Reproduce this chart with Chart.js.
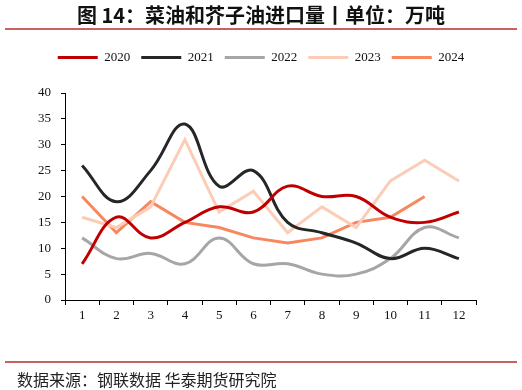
<!DOCTYPE html>
<html>
<head>
<meta charset="utf-8">
<script src="https://cdn.jsdelivr.net/npm/chart.js@4"></script>
<style>
  body { margin: 0; background: #fff; }
  #wrap { position: relative; width: 522px; height: 390px; overflow: hidden; }
  #c { position: absolute; left: 0; top: 0; }
  .title { position: absolute; left: 0; top: 0px; width: 522px; text-align: center;
    font: bold 20px "Noto Sans CJK SC", sans-serif; color: #111; }
  .rule { position: absolute; left: 5px; width: 512px; height: 2px; background: #C8625F; }
  .src { position: absolute; left: 17px; top: 367px; font: 16px "Noto Sans CJK SC", sans-serif; color: #222; }
</style>
</head>
<body>
<div id="wrap">
  <canvas id="c" width="522" height="390"></canvas>
  <div class="title">图 14：菜油和芥子油进口量丨单位：万吨</div>
  <div class="rule" style="top:28px"></div>
  <div class="rule" style="top:361px"></div>
  <div class="src">数据来源：钢联数据 华泰期货研究院</div>
</div>
<script>
const meses = ['1', '2', '3', '4', '5', '6', '7', '8', '9', '10', '11', '12'];
const anios = ['2020', '2021', '2022', '2023', '2024'];
const v2020 = [7, 16, 12, 15, 18, 17, 22, 20, 20, 16, 15, 17];
const v2021 = [26, 19, 25, 34, 22, 25, 15, 13, 11, 8, 10, 8];
const v2022 = [12, 8, 9, 7, 12, 7, 7, 5, 5, 8, 14, 12];
const v2023 = [16, 14, 18, 31, 17, 21, 13, 18, 14, 23, 27, 23];
const v2024 = [20, 13, 19, 15, 14, 12, 11, 12, 15, 16, 20];
const colores = ['#C00000', '#262626', '#A6A6A6', '#FBCDB6', '#F8875F'];
const suaves = [true, true, true, false, false];

const series = [v2020, v2021, v2022, v2023, v2024];

const ctx = document.getElementById('c');

// legend needs some room below it
const margenLeyenda = {
    id: 'margenLeyenda',
    beforeInit(chart) {
        const fit = chart.legend.fit;
        chart.legend.fit = function () {
            fit.bind(chart.legend)();
            this.height += 19;
        };
    }
};

const fuente = { family: '"Liberation Serif", "Times New Roman", serif', size: 13 };

new Chart(ctx, {
    type: 'line',
    data: {
        labels: meses,
        datasets: series.map((d, i) => ({
            label: anios[i],
            data: d,
            borderColor: colores[i],
            backgroundColor: colores[i],
            borderWidth: 3,
            pointRadius: 0,
            tension: suaves[i] ? 0.4 : 0,
            fill: false
        }))
    },
    options: {
        responsive: false,
        animation: false,
        layout: { padding: { top: 40, right: 0, left: 0, bottom: 0 } },
        plugins: {
            legend: {
                labels: {
                    usePointStyle: true,
                    pointStyle: 'line',
                    pointStyleWidth: 40,
                    padding: 11,
                    color: '#111',
                    font: fuente
                }
            },
            tooltip: { enabled: false }
        },
        scales: {
            x: {
                offset: true,
                afterFit(scale) { scale.height = 90; },
                grid: { offset: true, drawOnChartArea: false, color: '#000', tickLength: 5 },
                border: { color: '#000', width: 1 },
                ticks: { color: '#111', padding: 3, font: fuente }
            },
            y: {
                min: 0,
                max: 40,
                afterFit(scale) { scale.width = 65; },
                grid: { drawOnChartArea: false, color: '#000', tickLength: 4 },
                border: { color: '#000', width: 1 },
                ticks: { stepSize: 5, color: '#111', padding: 10, font: fuente }
            },
            // empty right margin so the legend centres on the whole page
            derecha: {
                position: 'right',
                afterFit(scale) { scale.width = 46; },
                grid: { display: false },
                border: { display: false },
                ticks: { display: false }
            }
        }
    },
    plugins: [margenLeyenda]
});
</script>
</body>
</html>
